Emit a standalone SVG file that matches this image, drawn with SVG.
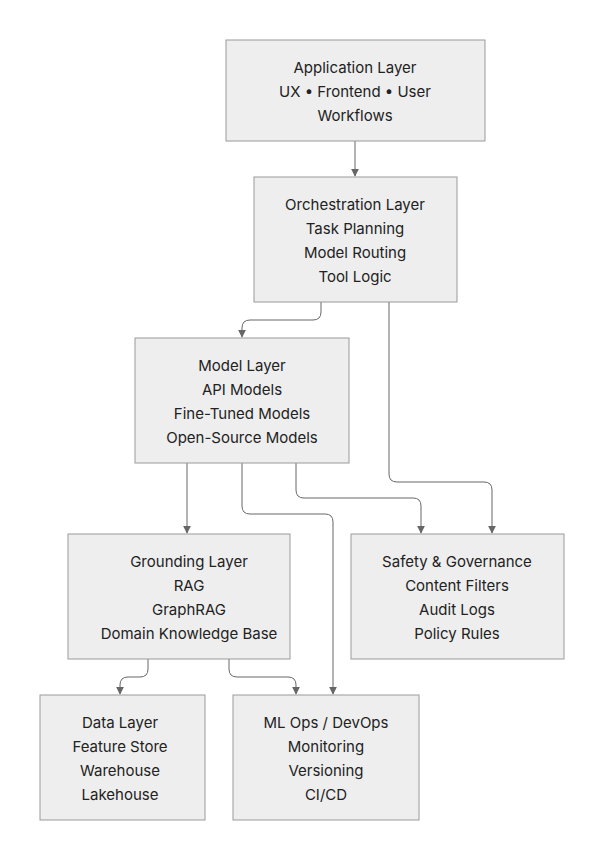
<svg xmlns="http://www.w3.org/2000/svg" width="604" height="861" viewBox="0 0 604 861">
<style>
.n{fill:#eeeeee;stroke:#9a9a9a;stroke-width:1}
.t{font-family:Inter,"Liberation Sans",sans-serif;font-size:15px;fill:#222;text-anchor:middle}
.c{fill:none;stroke:#666;stroke-width:1}
</style>
<defs><marker id="a" viewBox="0 0 10 10" refX="9" refY="5" markerWidth="8" markerHeight="8" orient="auto"><path d="M0,0L10,5L0,10z" fill="#666"/></marker></defs>
<rect width="604" height="861" fill="#fff"/>
<g id="connectors">
<path class="c" marker-end="url(#a)" d="M355,141V176"/>
<path class="c" marker-end="url(#a)" d="M321,302V312Q321,320 313,320H250Q242,320 242,328V337"/>
<path class="c" marker-end="url(#a)" d="M389,302V474Q389,482 397,482H484Q492,482 492,490V533"/>
<path class="c" marker-end="url(#a)" d="M187,463V533"/>
<path class="c" marker-end="url(#a)" d="M296,463V490Q296,498 304,498H413Q421,498 421,506V533"/>
<path class="c" marker-end="url(#a)" d="M242,463V506Q242,514 250,514H325Q333,514 333,522V694"/>
<path class="c" marker-end="url(#a)" d="M148,659V669Q148,677 140,677H128Q120,677 120,685V694"/>
<path class="c" marker-end="url(#a)" d="M229,659V669Q229,677 237,677H288Q296,677 296,685V694"/>
</g>
<g id="app"><rect class="n" x="226" y="40" width="259" height="101"/><text class="t" x="355" y="73">Application Layer</text><text class="t" x="355" y="97">UX • Frontend • User</text><text class="t" x="355" y="121">Workflows</text></g>
<g id="orch"><rect class="n" x="254" y="177" width="203" height="125"/><text class="t" x="355" y="210">Orchestration Layer</text><text class="t" x="355" y="234">Task Planning</text><text class="t" x="355" y="258">Model Routing</text><text class="t" x="355" y="282">Tool Logic</text></g>
<g id="model"><rect class="n" x="135" y="338" width="214" height="125"/><text class="t" x="242" y="371">Model Layer</text><text class="t" x="242" y="395">API Models</text><text class="t" x="242" y="419">Fine-Tuned Models</text><text class="t" x="242" y="443">Open-Source Models</text></g>
<g id="grounding"><rect class="n" x="68" y="534" width="222" height="125"/><text class="t" x="189" y="567">Grounding Layer</text><text class="t" x="189" y="591">RAG</text><text class="t" x="189" y="615">GraphRAG</text><text class="t" x="189" y="639">Domain Knowledge Base</text></g>
<g id="safety"><rect class="n" x="351" y="534" width="213" height="125"/><text class="t" x="457" y="567">Safety &amp; Governance</text><text class="t" x="457" y="591">Content Filters</text><text class="t" x="457" y="615">Audit Logs</text><text class="t" x="457" y="639">Policy Rules</text></g>
<g id="data"><rect class="n" x="40" y="695" width="165" height="125"/><text class="t" x="120" y="728">Data Layer</text><text class="t" x="120" y="752">Feature Store</text><text class="t" x="120" y="776">Warehouse</text><text class="t" x="120" y="800">Lakehouse</text></g>
<g id="mlops"><rect class="n" x="233" y="695" width="186" height="125"/><text class="t" x="326" y="728">ML Ops / DevOps</text><text class="t" x="326" y="752">Monitoring</text><text class="t" x="326" y="776">Versioning</text><text class="t" x="326" y="800">CI/CD</text></g>
</svg>
